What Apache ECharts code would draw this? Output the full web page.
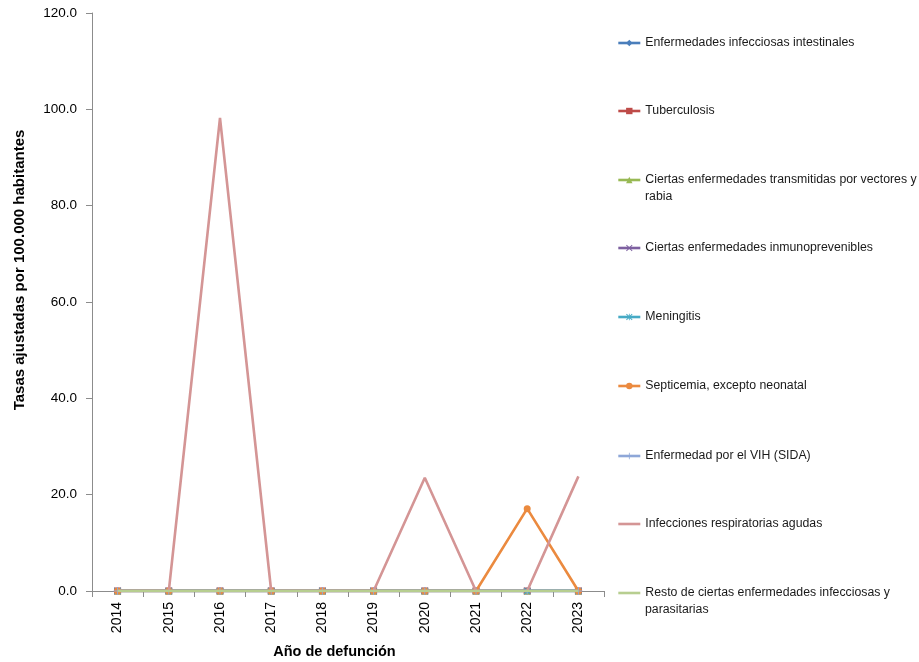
<!DOCTYPE html>
<html>
<head>
<meta charset="utf-8">
<script src="https://cdn.jsdelivr.net/npm/echarts@6/dist/echarts.min.js"></script>
<style>
html,body{margin:0;padding:0;background:#fff;}
#chart{width:919px;height:662px;}
</style>
</head>
<body>
<div id="chart"></div>
<script>
const years = ['2014','2015','2016','2017','2018','2019','2020','2021','2022','2023'];
const yTicks = [0, 20, 40, 60, 80, 100, 120];

const seriesNames = [
  'Enfermedades infecciosas intestinales',
  'Tuberculosis',
  'Ciertas enfermedades transmitidas por vectores y rabia',
  'Ciertas enfermedades inmunoprevenibles',
  'Meningitis',
  'Septicemia, excepto neonatal',
  'Enfermedad por el VIH (SIDA)',
  'Infecciones respiratorias agudas',
  'Resto de ciertas enfermedades infecciosas y parasitarias'
];

const intestinales   = [0, 0, 0, 0, 0, 0, 0, 0, 0, 0];
const tuberculosis   = [0, 0, 0, 0, 0, 0, 0, 0, 0, 0];
const vectores       = [0, 0, 0, 0, 0, 0, 0, 0, 0, 0];
const inmunoprev     = [0, 0, 0, 0, 0, 0, 0, 0, 0, 0];
const meningitis     = [0, 0, 0, 0, 0, 0, 0, 0, 0, 0];
const septicemia     = [0, 0, 0, 0, 0, 0, 0, 0, 17.1, 0];
const vih            = [0, 0, 0, 0, 0, 0, 0, 0, 0, 0];
const respiratorias  = [0, 0, 98.2, 0, 0, 0, 23.5, 0, 0, 23.8];
const resto          = [0, 0, 0, 0, 0, 0, 0, 0, 0, 0];

const seriesData = [intestinales, tuberculosis, vectores, inmunoprev, meningitis, septicemia, vih, respiratorias, resto];

// legend display (first line) and continuation lines
const legendFirstLine = [
  'Enfermedades infecciosas intestinales',
  'Tuberculosis',
  'Ciertas enfermedades transmitidas por vectores y',
  'Ciertas enfermedades inmunoprevenibles',
  'Meningitis',
  'Septicemia, excepto neonatal',
  'Enfermedad por el VIH (SIDA)',
  'Infecciones respiratorias agudas',
  'Resto de ciertas enfermedades infecciosas y'
];
const legendSecondLine = ['', '', 'rabia', '', '', '', '', '', 'parasitarias'];

const colors = ['#4A7EBB', '#BE4B48', '#98B954', '#7D60A0', '#46AAC5', '#EB8A3F', '#8EA7D8', '#D49595', '#B7CE90'];

const xPath = 'path://M0,1 L1,0 L5,4 L9,0 L10,1 L6,5 L10,9 L9,10 L5,6 L1,10 L0,9 L4,5 Z';
const plusPath = 'path://M4.4,0 L5.6,0 L5.6,4.4 L10,4.4 L10,5.6 L5.6,5.6 L5.6,10 L4.4,10 L4.4,5.6 L0,5.6 L0,4.4 L4.4,4.4 Z';
const starPath = 'path://M0,1 L1,0 L5,4 L9,0 L10,1 L6,5 L10,9 L9,10 L5,6 L1,10 L0,9 L4,5 Z M4.4,0 L5.6,0 L5.6,10 L4.4,10 Z';
const symbols = ['diamond', 'rect', 'triangle', xPath, starPath, 'circle', plusPath, 'none', 'none'];
const symbolSizes = [7, 7, 7, 7, 7, 7, 8, 0, 0];

const legendY = [43, 111, 180, 248, 317, 386, 456, 524, 593];

const chart = echarts.init(document.getElementById('chart'), null, {renderer: 'canvas'});

const series = seriesNames.map((name, i) => ({
  name: name,
  type: 'line',
  data: seriesData[i],
  symbol: symbols[i],
  symbolSize: symbolSizes[i],
  showSymbol: symbols[i] !== 'none',
  color: colors[i],
  lineStyle: {width: 2.6, color: colors[i]},
  itemStyle: {color: colors[i]},
  emphasis: {disabled: true},
  animation: false,
  z: 2 + i
}));

const legends = seriesNames.map((name, i) => {
  const lg = {
    data: [name],
    orient: 'vertical',
    left: 617,
    top: legendY[i] - 7,
    itemWidth: 22,
    itemHeight: 8,
    padding: 0,
    selectedMode: false,
    formatter: () => legendFirstLine[i],
    lineStyle: {width: 2.6},
    textStyle: {
      fontFamily: 'Liberation Sans, Arial, sans-serif',
      fontSize: 12.3,
      lineHeight: 14,
      color: '#1a1a1a'
    }
  };
  if (symbols[i] === 'none') {
    lg.itemStyle = {opacity: 0};
  }
  return lg;
});

const graphics = [];
legendSecondLine.forEach((t, i) => {
  if (t) {
    graphics.push({
      type: 'text',
      left: 645,
      top: legendY[i] + 18 - 7,
      style: {
        text: t,
        font: '12.3px "Liberation Sans", Arial, sans-serif',
        fill: '#1a1a1a'
      }
    });
  }
});
graphics.push({
  type: 'text',
  x: 19.5,
  y: 270,
  rotation: Math.PI / 2,
  style: {
    text: 'Tasas ajustadas por 100.000 habitantes',
    font: 'bold 15px "Liberation Sans", Arial, sans-serif',
    fill: '#000',
    align: 'center',
    verticalAlign: 'middle'
  }
});
graphics.push({
  type: 'text',
  x: 334.5,
  y: 652,
  style: {
    text: 'Año de defunción',
    font: 'bold 14.5px "Liberation Sans", Arial, sans-serif',
    fill: '#000',
    align: 'center',
    verticalAlign: 'middle'
  }
});

chart.setOption({
  animation: false,
  backgroundColor: '#ffffff',
  grid: {left: 92, right: 315, top: 13, bottom: 71},
  legend: legends,
  xAxis: {
    type: 'category',
    data: years,
    boundaryGap: true,
    axisLine: {lineStyle: {color: '#8c8c8c', width: 1}},
    axisTick: {show: true, length: 6, interval: 0, lineStyle: {color: '#8c8c8c'}},
    axisLabel: {
      rotate: 90,
      interval: 0,
      margin: 11,
      fontFamily: 'Liberation Sans, Arial, sans-serif',
      fontSize: 14,
      color: '#000'
    },
    splitLine: {show: false}
  },
  yAxis: {
    type: 'value',
    min: yTicks[0],
    max: yTicks[yTicks.length - 1],
    interval: yTicks[1] - yTicks[0],
    axisLine: {show: true, lineStyle: {color: '#8c8c8c', width: 1}},
    axisTick: {show: true, length: 6, lineStyle: {color: '#8c8c8c'}},
    axisLabel: {
      formatter: v => v.toFixed(1),
      margin: 15,
      fontFamily: 'Liberation Sans, Arial, sans-serif',
      fontSize: 13.5,
      color: '#000'
    },
    splitLine: {show: false}
  },
  graphic: graphics,
  series: series
});
</script>
</body>
</html>
